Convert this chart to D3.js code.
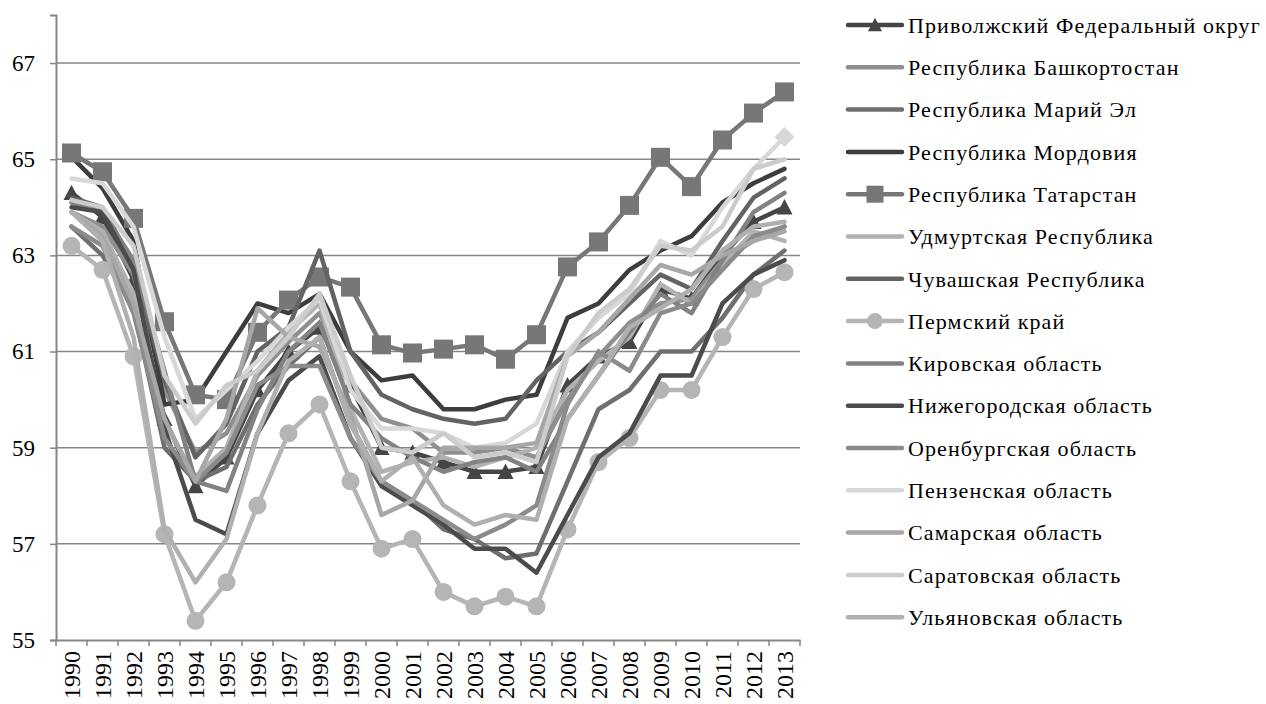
<!DOCTYPE html>
<html><head><meta charset="utf-8">
<script src="https://cdn.jsdelivr.net/npm/d3@7"></script>
<style>
html,body{margin:0;padding:0;background:#fff;}
svg{display:block;}
text{font-family:"Liberation Serif","Times New Roman",serif;fill:#000;}
</style></head>
<body>
<svg id="chart" width="1266" height="704"></svg>
<script>
const years = [1990,1991,1992,1993,1994,1995,1996,1997,1998,1999,2000,2001,2002,2003,2004,2005,2006,2007,2008,2009,2010,2011,2012,2013];
const yTicks = [55,57,59,61,63,65,67];

const seriesNames = [
  "Приволжский Федеральный округ","Республика Башкортостан","Республика Марий Эл","Республика Мордовия",
  "Республика Татарстан","Удмуртская Республика","Чувашская Республика","Пермский край",
  "Кировская область","Нижегородская область","Оренбургская область","Пензенская область",
  "Самарская область","Саратовская область","Ульяновская область"
];
const pfo       = [64.3,63.8,62.5,59.6,58.2,58.8,60.2,61.0,61.5,60.3,59.0,58.9,58.7,58.5,58.5,58.6,60.3,60.9,61.2,62.3,62.1,63.0,63.7,64.0];
const bashk     = [63.9,63.6,62.6,60.2,58.9,59.3,60.5,61.2,61.8,60.4,59.6,59.4,58.9,58.9,59.0,58.8,60.0,60.9,61.6,62.0,62.1,62.9,63.3,63.6];
const mariEl    = [63.6,63.0,61.9,59.0,58.3,58.6,59.9,60.7,61.3,59.5,58.3,57.9,57.3,57.1,56.7,56.8,58.3,59.8,60.2,61.0,61.0,61.7,62.6,63.1];
const mordovia  = [65.05,64.4,63.3,59.9,60.0,61.0,62.0,61.8,62.2,61.0,60.4,60.5,59.8,59.8,60.0,60.1,61.7,62.0,62.7,63.1,63.4,64.1,64.5,64.8];
const tatarstan = [65.13,64.74,63.77,61.62,60.1,60.0,61.4,62.07,62.55,62.34,61.14,60.97,61.05,61.14,60.84,61.35,62.76,63.28,64.04,65.04,64.43,65.4,65.96,66.4];
const udmurt    = [63.9,63.5,62.2,59.5,58.4,59.0,60.6,61.4,62.0,59.8,58.5,58.7,58.8,58.6,58.8,59.0,60.2,60.8,61.3,62.4,62.0,62.8,63.5,63.3];
const chuvash   = [64.2,64.0,62.8,60.4,58.8,59.5,61.0,61.5,63.1,61.0,60.1,59.8,59.6,59.5,59.6,60.4,61.0,61.4,62.0,62.6,62.3,63.3,64.2,64.6];
const perm      = [63.2,62.7,60.9,57.2,55.4,56.2,57.8,59.3,59.9,58.3,56.9,57.1,56.0,55.7,55.9,55.7,57.3,58.7,59.2,60.2,60.2,61.3,62.3,62.65];
const kirov     = [64.1,63.9,62.9,60.6,58.3,58.1,59.8,61.0,61.6,59.9,59.2,58.8,58.5,58.7,58.8,58.5,59.6,60.5,61.4,62.2,61.8,62.9,63.9,64.3];
const nizhny    = [64.0,63.9,62.7,59.4,57.5,57.2,59.3,60.4,60.9,59.2,58.2,57.8,57.4,56.9,56.9,56.4,57.6,58.8,59.3,60.5,60.5,62.0,62.6,62.9];
const orenburg  = [63.6,63.2,61.8,59.2,58.3,58.9,60.3,60.7,60.7,59.2,58.3,57.9,57.5,57.1,57.4,57.8,59.9,61.0,60.6,61.8,62.0,62.7,63.4,63.6];
const penza     = [64.6,64.5,63.6,61.3,59.6,60.2,60.8,61.5,62.1,60.2,59.4,59.4,59.3,59.0,59.1,59.5,61.0,61.7,62.2,63.3,63.0,64.0,64.8,65.46];
const samara    = [63.9,63.4,62.0,59.6,58.3,59.6,61.9,61.3,61.1,59.7,57.6,57.9,59.0,59.0,59.0,59.1,60.9,61.4,62.1,62.8,62.6,63.0,63.3,63.5];
const saratov   = [64.15,64.0,63.2,60.5,59.5,60.3,60.6,61.3,62.2,60.5,59.0,58.9,59.3,58.8,58.9,58.7,60.9,61.8,62.3,63.2,63.1,63.6,64.8,65.0];
const ulyanovsk = [63.9,63.3,61.3,57.3,56.2,57.1,59.3,60.8,61.3,59.5,58.3,58.8,57.8,57.4,57.6,57.5,59.6,60.5,61.5,61.9,62.3,63.1,63.6,63.7];

const seriesValues = [pfo,bashk,mariEl,mordovia,tatarstan,udmurt,chuvash,perm,kirov,nizhny,orenburg,penza,samara,saratov,ulyanovsk];
const seriesColors = ["#454545","#8f8f8f","#6f6f6f","#3d3d3d","#777777","#b2b2b2","#636363","#b5b5b5","#828282","#4b4b4b","#8b8b8b","#d8d8d8","#a7a7a7","#cccccc","#b0b0b0"];
const seriesMarkers = ["triangle",null,null,null,"square",null,null,"circle",null,null,null,null,null,null,null];
// single diamond marker on the last point of Пензенская область
const diamondSeries = 11, diamondYearIndex = 23;

const svg = d3.select("#chart");
const M = {left:56, right:800, top:15, bottom:640};

const x = d3.scaleBand().domain(years).range([M.left, M.right]);
const y = d3.scaleLinear().domain([55,68]).range([M.bottom, M.top]);
const axisColor = "#868686";
const FONT = "'Liberation Serif','Times New Roman',serif";

// gridlines
svg.append("g").selectAll("line").data(yTicks.filter(d=>d>55)).join("line")
  .attr("x1",M.left).attr("x2",M.right)
  .attr("y1",d=>y(d)).attr("y2",d=>y(d))
  .attr("stroke",axisColor).attr("stroke-width",1.5);

// y axis
const yAxis = d3.axisLeft(y).tickValues(yTicks).tickSize(6).tickPadding(15).tickFormat(d3.format("d"));
const gy = svg.append("g").attr("transform",`translate(${M.left},0)`).call(yAxis);
gy.select(".domain").attr("stroke",axisColor).attr("stroke-width",2);
gy.selectAll(".tick line").attr("stroke",axisColor).attr("stroke-width",1.5);
gy.selectAll(".tick text").style("font-family",FONT).style("font-size","23px").attr("fill","#000");

// x axis
const xAxis = d3.axisBottom(x).tickSize(0).tickPadding(0);
const gx = svg.append("g").attr("transform",`translate(0,${M.bottom})`).call(xAxis);
gx.select(".domain").attr("stroke",axisColor).attr("stroke-width",2);
gx.selectAll(".tick text")
  .style("font-family",FONT).style("font-size","24px").attr("fill","#000")
  .attr("text-anchor","end").attr("dy","0.35em")
  .attr("transform","translate(0,11) rotate(-90)");
// category boundary ticks
const bounds = years.map(d=>x(d)).concat([M.right]);
svg.append("g").selectAll("line").data(bounds).join("line")
  .attr("x1",d=>d).attr("x2",d=>d).attr("y1",M.bottom).attr("y2",M.bottom+6)
  .attr("stroke",axisColor).attr("stroke-width",1.5);

const cx = d => x(d) + x.bandwidth()/2;
const line = d3.line().x((v,i)=>cx(years[i])).y(v=>y(v));

function drawMarker(g, type, px, py, color, size){
  if(type==="square"){
    g.append("rect").attr("x",px-size/2).attr("y",py-size/2).attr("width",size).attr("height",size).attr("fill",color);
  } else if(type==="circle"){
    g.append("circle").attr("cx",px).attr("cy",py).attr("r",size/2).attr("fill",color);
  } else if(type==="triangle"){
    const h=size*0.9, w=size;
    g.append("path").attr("d",`M${px},${py-h/2-1}L${px+w/2},${py+h/2}L${px-w/2},${py+h/2}Z`).attr("fill",color);
  } else if(type==="diamond"){
    const s=size/2+2;
    g.append("path").attr("d",`M${px},${py-s}L${px+s},${py}L${px},${py+s}L${px-s},${py}Z`).attr("fill",color);
  }
}
const markerSize = {square:19, circle:18, triangle:16, diamond:16};

const plot = svg.append("g");
seriesValues.forEach((vals,si)=>{
  const g = plot.append("g");
  g.append("path").attr("d",line(vals)).attr("fill","none")
    .attr("stroke",seriesColors[si]).attr("stroke-width",4.5)
    .attr("stroke-linejoin","round").attr("stroke-linecap","round");
  const mk = seriesMarkers[si];
  if(mk){
    vals.forEach((v,i)=>drawMarker(g, mk, cx(years[i]), y(v), seriesColors[si], markerSize[mk]));
  }
  if(si===diamondSeries){
    drawMarker(g,"diamond",cx(years[diamondYearIndex]),y(vals[diamondYearIndex]),seriesColors[si],markerSize.diamond);
  }
});

// legend
const lg = svg.append("g");
seriesNames.forEach((name,i)=>{
  const ly = 25 + i*42.3;
  const g = lg.append("g");
  g.append("line").attr("x1",848).attr("x2",902).attr("y1",ly).attr("y2",ly)
    .attr("stroke",seriesColors[i]).attr("stroke-width",4.5).attr("stroke-linecap","round");
  if(seriesMarkers[i]) drawMarker(g, seriesMarkers[i], 875, ly, seriesColors[i], markerSize[seriesMarkers[i]]-2);
  g.append("text").attr("x",908).attr("y",ly).attr("dy","0.35em")
    .style("font-family",FONT).style("font-size","22px").style("letter-spacing","1.1px").text(name);
});
</script>
</body></html>
